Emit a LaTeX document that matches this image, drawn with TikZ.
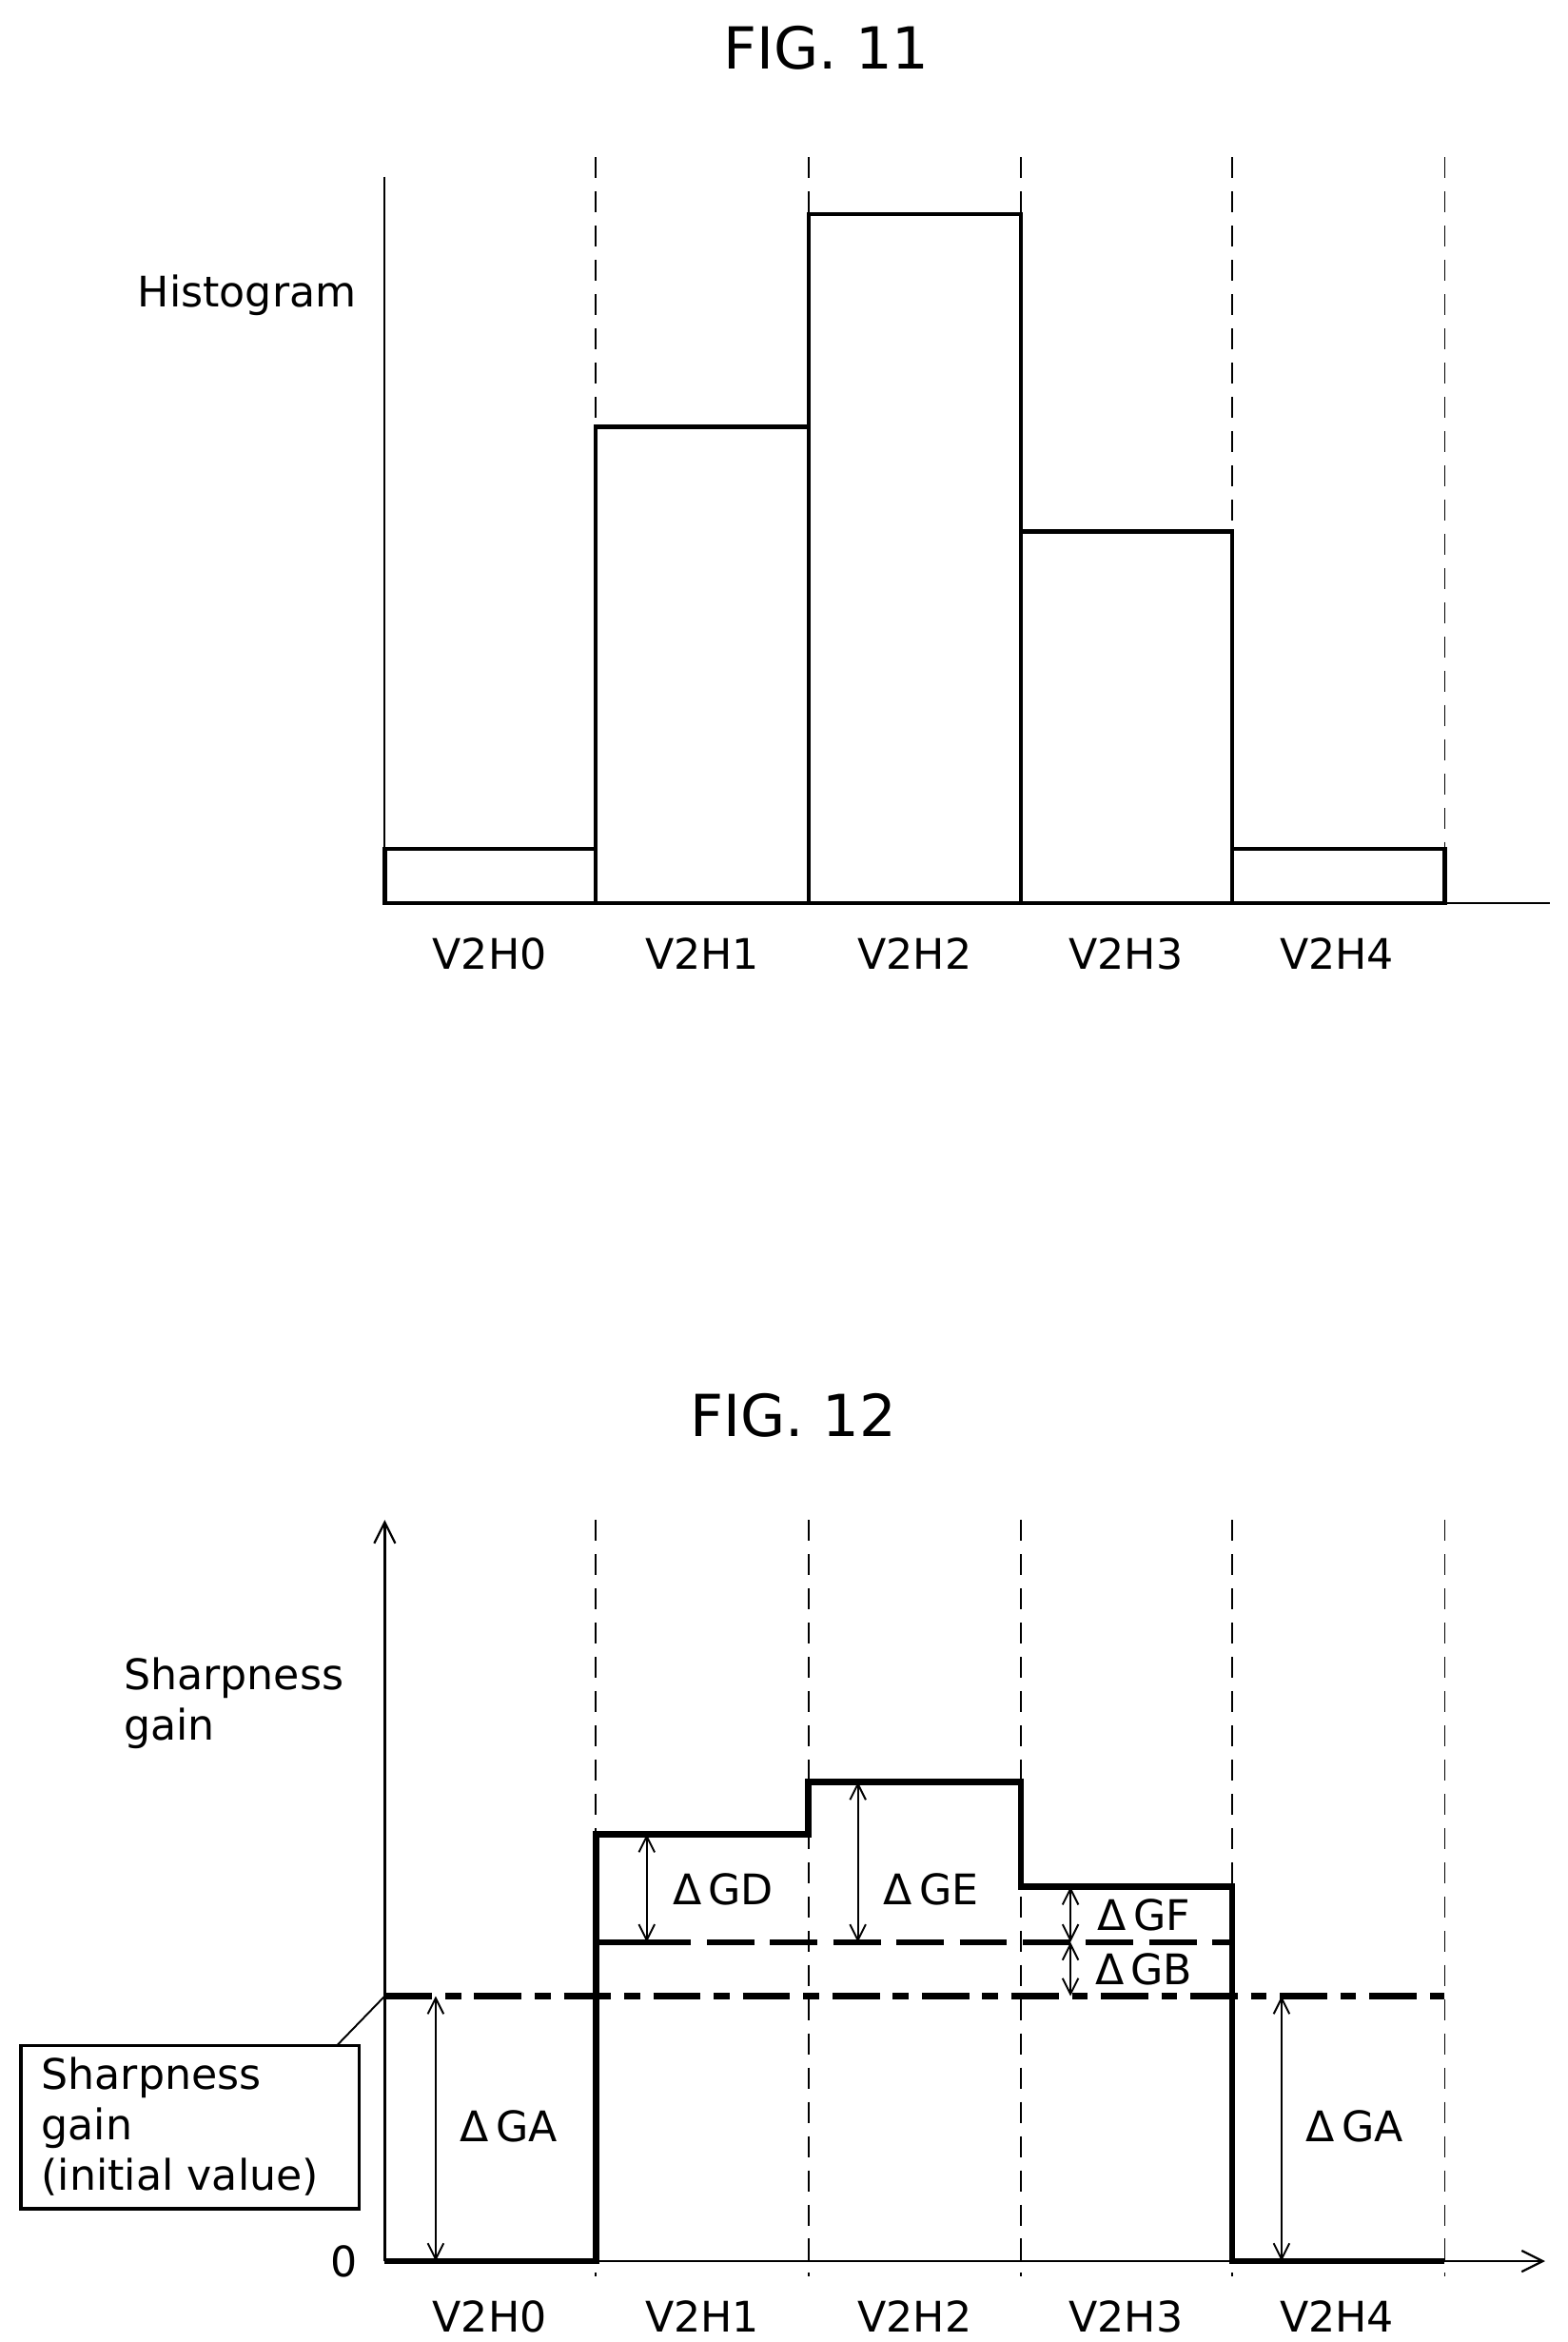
\documentclass[tikz,border=0pt]{standalone}
\usepackage{fontspec}
\setmainfont{DejaVu Sans}
\usetikzlibrary{arrows.meta}
\begin{document}
\begin{tikzpicture}[x=0.01cm,y=-0.01cm,
  lbl/.style={font=\fontsize{8}{9.6}\selectfont,inner sep=0pt},
  ttl/.style={font=\fontsize{11}{13}\selectfont,inner sep=0pt},
  thinl/.style={line width=0.35pt},
  vdash/.style={line width=0.3pt,dash pattern=on 4pt off 2.5pt},
  bar/.style={line width=0.8pt},
  stepl/.style={line width=1.2pt,line join=miter},
  dim/.style={line width=0.35pt,{Straight Barb[length=3pt,width=3pt]}-{Straight Barb[length=3pt,width=3pt]}},
  ax/.style={line width=0.4pt,-{Straight Barb[length=4pt,width=4pt]}}]
\useasboundingbox (0,0) rectangle (1047,1564);
% FIG 11
\node[ttl] (t11) at (552,32) {FIG. 11};
\foreach \x in {398,540,682,823,965} \draw[vdash] (\x,105) -- (\x,603);
\draw[thinl] (257,118) -- (257,603);
\draw[thinl] (257,603) -- (1035,603);
\draw[bar] (257,603) rectangle (398,567);
\draw[bar] (398,603) rectangle (540,285);
\draw[bar] (540,603) rectangle (682,143);
\draw[bar] (682,603) rectangle (823,355);
\draw[bar] (823,603) rectangle (965,567);
\node[lbl] (hist) at (165,197) {Histogram};
\foreach \x/\t in {327/V2H0,469/V2H1,611/V2H2,752/V2H3,893/V2H4} \node[lbl] (a\t) at (\x,637) {\t};
% FIG 12
\node[ttl] (t12) at (530,945) {FIG. 12};
\foreach \x in {398,540,682,823,965} \draw[vdash] (\x,1015) -- (\x,1520);
\coordinate (o) at (257,1510);
\coordinate (ytop) at (257,1015);
\coordinate (xend) at (1032,1510);
\draw[ax] (o) -- (ytop);
\draw[ax] (o) -- (xend);
\draw[line width=1.1pt,dash pattern=on 9pt off 2.5pt on 3pt off 2.5pt] (257,1333) -- (965,1333);
\draw[line width=1.1pt,dash pattern=on 9pt off 3pt] (430,1297) -- (823,1297);
\draw[line width=1.1pt] (398,1297) -- (432,1297);
\draw[stepl] (257,1510) -- (398,1510) -- (398,1225) -- (540,1225) -- (540,1190) -- (682,1190) -- (682,1260) -- (823,1260) -- (823,1510) -- (965,1510);
\draw[dim] (432,1225) -- (432,1297);
\draw[dim] (573,1190) -- (573,1297);
\draw[dim] (715,1260) -- (715,1297);
\draw[dim] (715,1297) -- (715,1333);
\draw[dim] (291,1333) -- (291,1510);
\draw[dim] (856,1333) -- (856,1510);
\node[lbl] (gd) at (483,1262) {Δ\,GD};
\node[lbl] (ge) at (622,1262) {Δ\,GE};
\node[lbl] (gf) at (764,1279) {Δ\,GF};
\node[lbl] (gb) at (764,1315) {Δ\,GB};
\node[lbl] (ga1) at (340,1420) {Δ\,GA};
\node[lbl] (ga2) at (905,1420) {Δ\,GA};
\node[lbl,align=left,anchor=north west] (sg) at (82,1106) {Sharpness\\gain};
\draw[line width=0.6pt,fill=white] (14,1366) rectangle (240,1475);
\node[lbl,align=left,anchor=north west] (bt) at (27,1373) {Sharpness\\gain\\(initial value)};
\coordinate (lead) at (257,1333);
\draw[thinl] (lead) -- (225,1366);
\node[lbl] (zero) at (230,1510) {0};
\foreach \x/\t in {327/V2H0,469/V2H1,611/V2H2,752/V2H3,893/V2H4} \node[lbl] (b\t) at (\x,1547) {\t};
\end{tikzpicture}
\end{document}
